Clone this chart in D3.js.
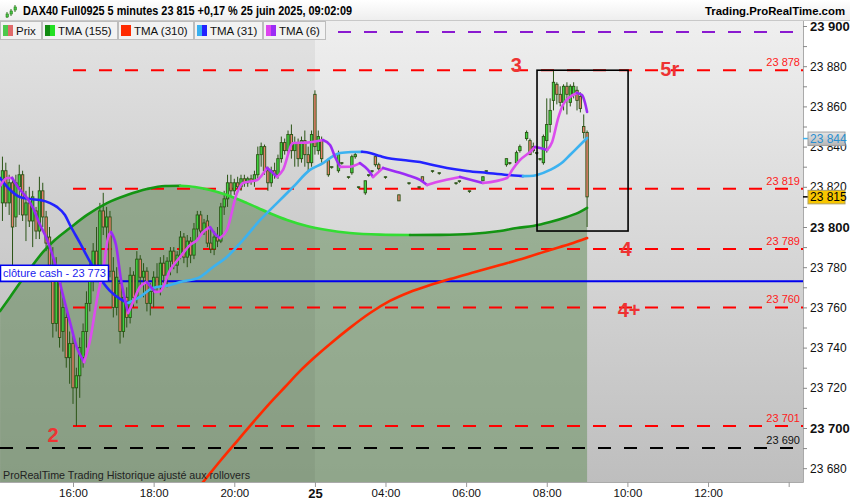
<!DOCTYPE html>
<html>
<head>
<meta charset="utf-8">
<script src="https://cdn.jsdelivr.net/npm/d3@7"></script>
<style>
  body { margin: 0; background: #fff; }
  svg { display: block; font-family: "Liberation Sans", Arial, sans-serif; }
</style>
</head>
<body>
<div id="chart"></div>
<script>
// 5 minute bars : [slot, open, high, low, close]  (slot 0 = 14:15, slot 93 = first bar of the 25th)
const candles = [
  [0,23812,23835,23803,23828],[1,23828,23832,23810,23812],[2,23812,23826,23806,23822],[3,23822,23825,23779,23800],
  [4,23805,23826,23800,23822],[5,23820,23831,23806,23826],[6,23826,23828,23803,23806],[7,23806,23818,23793,23812],
  [8,23812,23820,23800,23803],[9,23803,23818,23790,23815],[10,23808,23810,23794,23798],[11,23798,23825,23794,23818],
  [12,23818,23822,23800,23805],[13,23805,23808,23788,23792],[14,23795,23800,23775,23780],[15,23780,23790,23745,23752],
  [16,23752,23785,23748,23778],[17,23778,23780,23740,23745],[18,23748,23765,23738,23760],[19,23755,23760,23730,23735],
  [20,23735,23748,23722,23742],[21,23742,23746,23712,23720],[22,23720,23730,23701,23726],[23,23726,23745,23715,23740],
  [24,23735,23752,23730,23748],[25,23748,23768,23740,23762],[26,23762,23782,23758,23778],[27,23778,23792,23768,23788],
  [28,23788,23800,23775,23780],[29,23780,23812,23778,23808],[30,23808,23817,23796,23800],[31,23800,23810,23788,23805],
  [32,23805,23808,23775,23778],[33,23778,23785,23755,23760],[34,23760,23780,23756,23775],[35,23772,23774,23742,23748],
  [36,23748,23768,23745,23765],[37,23765,23770,23750,23755],[38,23755,23780,23752,23776],[39,23776,23778,23760,23765],
  [40,23765,23788,23762,23784],[41,23784,23786,23770,23775],[42,23775,23782,23765,23778],[43,23778,23780,23758,23762],
  [44,23762,23772,23756,23768],[45,23768,23778,23760,23775],[46,23775,23782,23768,23770],[47,23770,23785,23766,23782],
  [48,23782,23786,23772,23776],[49,23776,23785,23770,23783],[50,23783,23790,23776,23788],[51,23788,23790,23779,23781],
  [52,23781,23788,23777,23786],[53,23786,23798,23784,23795],[54,23795,23797,23782,23785],[55,23785,23796,23780,23793],
  [56,23793,23795,23782,23786],[57,23786,23802,23784,23799],[58,23799,23808,23794,23806],[59,23806,23808,23796,23798],
  [60,23798,23804,23796,23802],[61,23803,23806,23790,23792],[62,23792,23800,23787,23789],[63,23789,23798,23786,23795],
  [64,23795,23800,23790,23793],[65,23793,23812,23792,23810],[66,23810,23818,23806,23814],[67,23814,23826,23810,23822],
  [68,23822,23826,23815,23818],[69,23818,23824,23816,23822],[70,23822,23825,23818,23820],[71,23820,23826,23818,23824],
  [72,23824,23826,23820,23822],[73,23822,23825,23820,23824],[74,23824,23826,23821,23823],[75,23823,23828,23820,23826],
  [76,23826,23840,23824,23836],[77,23836,23842,23830,23840],[78,23840,23841,23826,23828],[79,23828,23830,23818,23822],
  [80,23822,23830,23820,23828],[81,23828,23832,23824,23826],[82,23826,23836,23824,23834],[83,23834,23845,23832,23842],
  [84,23842,23844,23836,23838],[85,23838,23848,23836,23846],[86,23846,23851,23834,23838],[87,23838,23845,23830,23842],
  [88,23842,23844,23830,23834],[89,23834,23845,23832,23843],[90,23843,23848,23830,23836],[91,23836,23840,23828,23832],
  [92,23832,23848,23830,23846],[93,23866,23868,23836,23840],[94,23838,23848,23836,23845],[95,23843,23845,23832,23834],
  [97,23833,23834,23825,23826],[98,23830,23830,23829,23830],[100,23828,23838,23827,23836],[101,23832,23832,23831,23832],
  [103,23825,23825,23824,23825],[104,23827,23836,23826,23835],[105,23835,23837,23834,23836],[106,23820,23820,23819,23820],
  [108,23817,23823,23816,23823],[109,23826,23826,23825,23826],[110,23828,23828,23827,23828],[111,23835,23835,23830,23831],
  [112,23831,23832,23828,23829],[114,23825,23825,23824,23825],[118,23816,23816,23813,23813],[121,23822,23822,23821,23822],
  [124,23820,23820,23819,23820],[125,23825,23825,23823,23823],[128,23828,23828,23827,23828],[130,23827,23827,23826,23827],
  [135,23822,23822,23821,23822],[136,23823,23823,23822,23823],[139,23818,23818,23817,23818],[143,23823,23825,23823,23825],
  [144,23828,23828,23827,23828],[150,23831,23834,23830,23834],[151,23832,23832,23831,23832],[153,23832,23838,23831,23837],
  [154,23838,23841,23837,23840],[156,23844,23848,23843,23847],[157,23843,23844,23836,23836],[158,23840,23842,23837,23838],
  [159,23837,23837,23836,23837],[160,23834,23834,23833,23834],[161,23832,23846,23831,23845],[162,23843,23864,23837,23851],
  [163,23851,23864,23847,23858],[164,23863,23878,23858,23872],[165,23871,23872,23861,23866],[166,23866,23870,23860,23862],
  [167,23862,23871,23858,23870],[168,23870,23872,23856,23866],[169,23862,23871,23860,23870],[170,23866,23872,23864,23870],
  [171,23868,23870,23858,23863],[172,23865,23867,23857,23859],[173,23850,23856,23844,23847],[174,23847,23848,23800,23815]
];

const tma6 = [[-0.7,23820.4],[1.4,23824.4],[2.9,23824.4],[4.6,23819.9],[7.3,23814.4],[9.1,23809.5],[11.2,23801],[12.7,23796],
  [14.2,23789.6],[16.2,23778.6],[18,23766.2],[20.1,23752.7],[22.2,23739.8],[24.3,23732.8],[26.1,23743.8],[28.1,23763.7],
  [30.2,23781.1],[31.4,23794.5],[32.3,23797.5],[33.8,23791],[35.3,23773.6],[37.4,23757.2],[38.9,23762.7],[40.9,23770.1],
  [43,23772.6],[45.4,23767.7],[46.9,23767.9],[49.9,23778.6],[52.9,23785.1],[55.8,23791],[57.9,23793.5],[59.7,23797.5],
  [61.8,23800],[63.3,23796.5],[64.8,23794.5],[66.8,23798.5],[69.8,23816.9],[71.6,23821.9],[75.8,23823.4],[78.7,23829.4],
  [80.2,23827.4],[81.7,23824.9],[83.5,23828.4],[86.5,23841.8],[90.6,23842],[95.4,23843.3],[97.5,23840.8],[99,23834.8],
  [100.5,23829.9],[103.4,23830],[106.4,23831.8],[108.8,23828.4],[110.3,23824.9],[113.3,23829.4],[117.4,23827.4],
  [120.4,23825.9],[124.3,23823.4],[126.4,23820.9],[129.3,23822.4],[136.2,23824.9],[143,23821.9],[150.2,23824.4],
  [151.7,23828.4],[154,23833.3],[157,23837.3],[158.5,23839.8],[160,23839.3],[162.1,23838.3],[163.6,23842.3],
  [165.4,23854.2],[166.8,23860.7],[168.9,23864.7],[171,23866.7],[172.5,23865.7],[173.4,23861.7],[174,23857.2]];

const tma31 = [[-0.7,23824.4],[2.3,23818.4],[5.2,23814.9],[8.2,23813.9],[11.2,23813.4],[14.2,23811.9],[16.2,23810],
  [18.6,23806],[20.1,23801],[23.1,23792],[26.1,23782.6],[29,23774.6],[32,23768.2],[35,23764.2],[37.4,23762.2],
  [40.9,23765.2],[44.8,23769.7],[49.9,23771.1],[52.9,23772.6],[58.8,23775.1],[62.7,23780.1],[66.8,23785.1],
  [71.6,23793.5],[76.7,23803.5],[81.7,23811.9],[86.5,23819.9],[91.5,23828.4],[95.4,23831.8],[97.5,23834.3],
  [100.5,23836.8],[104.3,23837.3],[107,23837.4],[109.4,23836.8],[112.4,23835.3],[114.5,23834.3],[119.2,23833.3],
  [124.3,23832.3],[128.1,23830.8],[132.3,23829.4],[138.3,23827.9],[144.2,23826.9],[150.2,23825.9],[154.9,23825.3],
  [157,23825.4],[159.1,23825.9],[163,23828.4],[166.8,23832.3],[168.9,23835.8],[171.9,23840.8],[174,23844.3]];

const tma155 = [[-0.7,23758.2],[2.3,23765.2],[7.3,23777.1],[12.1,23787.6],[15.6,23793.5],[20.1,23799.5],[25.2,23806],
  [31.1,23811.9],[37.1,23815.9],[43,23818.9],[48.4,23820.4],[52.9,23820.5],[57.3,23819.9],[61.8,23818.4],[66.8,23815.9],
  [72.8,23811.9],[78.7,23807.5],[84.7,23803.5],[90.6,23800.5],[96.6,23798.5],[103.4,23797],[112.4,23796.2],
  [121.3,23796],[130.2,23796.1],[139.2,23796.5],[148.1,23798],[153.1,23799.5],[157.9,23800.5],[163,23802.5],
  [168,23805],[171.9,23807.5],[174,23809.5]];

const tma310 = [[57.3,23668.2],[59.7,23673.1],[64.8,23683.6],[70.1,23694],[75.2,23704],[79.6,23712.4],[84.1,23720.4],
  [88.6,23728.4],[93,23735.3],[97.5,23741.8],[103.4,23749.8],[109.4,23757.2],[115.3,23763.2],[121.3,23767.7],
  [127.3,23771.1],[133.2,23774.1],[140.6,23777.6],[148.1,23781.1],[155.5,23784.6],[163,23788.6],[168.9,23791.5],
  [174,23794.5]];

// horizontal levels
const redLevels = [23878, 23819, 23789, 23760, 23701];
const levelStartSlot = 21;
const purpleLevel = 23897;
const blackLevel = 23690;
const cashClose = 23773;
const lastPrice = 23815;
const lastTma31 = 23844;

// x axis
const xTickSlots = [21, 45, 69, 93, 114, 138, 162, 186, 210, 234];
const xTickLabels = ["16:00", "18:00", "20:00", "25", "04:00", "06:00", "08:00", "10:00", "12:00", ""];
const dayBreakSlot = 93;

// annotations : [text, slot, price]
const notes = [["3", 152.9, 23877], ["5r", 198.6, 23875], ["4", 185.6, 23785.5], ["4+", 186.5, 23755], ["2", 15.1, 23693]];
const box = [159.1, 186.2, 23878, 23798];

const legendItems = ["Prix", "TMA (155)", "TMA (310)", "TMA (31)", "TMA (6)"];
const legendColors = [["#4cc94c", "#e06a6a"], ["#0f8a0f", "#22e022"], ["#ff2a00", "#ff2a00"], ["#38b0f0", "#2222ff"], ["#dd44ee", "#9b2cf5"]];

// ---------------------------------------------------------------
const W = 850, H = 500;
const P = { left: 0, right: 803, top: 20, bottom: 482 };

const svg = d3.select("#chart").append("svg").attr("width", W).attr("height", H);

const x = d3.scaleLinear().domain([-0.726, 238.26]).range([P.left, P.right]);
const y = d3.scaleLinear().domain([23700, 23800]).range([428, 227]);
const fmt = v => d3.format(",")(v).replace(",", " ");

const defs = svg.append("defs");
const bgGrad = defs.append("linearGradient").attr("id", "bg").attr("x1", 0).attr("y1", 0).attr("x2", 0).attr("y2", 1);
bgGrad.append("stop").attr("offset", "0%").attr("stop-color", "#efefef");
bgGrad.append("stop").attr("offset", "100%").attr("stop-color", "#bebebe");
const headGrad = defs.append("linearGradient").attr("id", "head").attr("x1", 0).attr("y1", 0).attr("x2", 0).attr("y2", 1);
headGrad.append("stop").attr("offset", "0%").attr("stop-color", "#ffffff");
headGrad.append("stop").attr("offset", "100%").attr("stop-color", "#eeeeee");
const tagGrad = defs.append("linearGradient").attr("id", "tag").attr("x1", 0).attr("y1", 0).attr("x2", 0).attr("y2", 1);
tagGrad.append("stop").attr("offset", "0%").attr("stop-color", "#e6e6e6");
tagGrad.append("stop").attr("offset", "100%").attr("stop-color", "#b4b4b4");
defs.append("clipPath").attr("id", "clip").append("rect")
  .attr("x", P.left).attr("y", P.top).attr("width", P.right - P.left).attr("height", P.bottom - P.top);

// plot background
svg.append("rect").attr("x", P.left).attr("y", P.top).attr("width", P.right - P.left)
  .attr("height", P.bottom - P.top).attr("fill", "url(#bg)");

const g = svg.append("g").attr("clip-path", "url(#clip)");

// area under TMA(155)
g.append("path").datum(tma155)
  .attr("d", d3.area().x(d => x(d[0])).y0(P.bottom).y1(d => y(d[1])).curve(d3.curveMonotoneX))
  .attr("fill", "rgb(120,154,112)").attr("fill-opacity", 0.66);

// previous day slightly darker
g.append("rect").attr("x", P.left).attr("y", P.top).attr("width", x(dayBreakSlot) - P.left)
  .attr("height", P.bottom - P.top).attr("fill", "#000").attr("fill-opacity", 0.05);

// dashed levels
g.selectAll("line.red").data(redLevels).join("line").attr("class", "red")
  .attr("x1", x(levelStartSlot)).attr("x2", P.right).attr("y1", d => y(d)).attr("y2", d => y(d))
  .attr("stroke", "#ff0000").attr("stroke-width", 2).attr("stroke-dasharray", "13,13");
g.append("line").attr("x1", 0).attr("x2", P.right).attr("y1", y(purpleLevel)).attr("y2", y(purpleLevel))
  .attr("stroke", "#8a1ad0").attr("stroke-width", 2).attr("stroke-dasharray", "13,13");
g.append("line").attr("x1", 0).attr("x2", P.right).attr("y1", y(blackLevel)).attr("y2", y(blackLevel))
  .attr("stroke", "#000").attr("stroke-width", 2).attr("stroke-dasharray", "13,13");

// cash close
g.append("line").attr("x1", 0).attr("x2", P.right).attr("y1", y(cashClose)).attr("y2", y(cashClose))
  .attr("stroke", "#0000ee").attr("stroke-width", 2);

// candles
const wickCol = "#2b5416";
g.selectAll("line.wick").data(candles).join("line").attr("class", "wick")
  .attr("x1", d => x(d[0])).attr("x2", d => x(d[0]))
  .attr("y1", d => y(d[2])).attr("y2", d => y(d[3]))
  .attr("stroke", wickCol).attr("stroke-width", 1);
const bw = 2.4;
g.selectAll("rect.body").data(candles).join("rect").attr("class", "body")
  .attr("x", d => x(d[0]) - bw / 2)
  .attr("y", d => y(Math.max(d[1], d[4])))
  .attr("width", bw)
  .attr("height", d => Math.max(0.6, Math.abs(y(d[1]) - y(d[4]))))
  .attr("fill", d => d[4] > d[1] ? "#3fd63f" : d[4] < d[1] ? "#e8806c" : wickCol)
  .attr("stroke", wickCol).attr("stroke-width", 0.9);

// moving averages, coloured by direction
function runs(pts) {
  const out = [];
  let cur = [pts[0]], dir = 0;
  for (let k = 1; k < pts.length; k++) {
    let d = Math.sign(pts[k][1] - pts[k - 1][1]) || dir || 1;
    if (dir === 0) dir = d;
    if (d !== dir) { out.push({ dir, pts: cur }); cur = [pts[k - 1]]; dir = d; }
    cur.push(pts[k]);
  }
  out.push({ dir, pts: cur });
  return out;
}
const lineGen = d3.line().x(d => x(d[0])).y(d => y(d[1])).curve(d3.curveMonotoneX);
function drawTma(pts, upCol, downCol, width) {
  g.append("g").selectAll("path").data(runs(pts)).join("path")
    .attr("d", r => lineGen(r.pts)).attr("fill", "none")
    .attr("stroke", r => r.dir > 0 ? upCol : downCol)
    .attr("stroke-width", width).attr("stroke-linecap", "round");
}
drawTma(tma310, "#ff2a00", "#ff2a00", 2.6);
drawTma(tma155, "#139413", "#33dd33", 2.6);
drawTma(tma31, "#3cb2f0", "#2323ff", 2.6);
drawTma(tma6, "#dc4ded", "#9b2cf5", 2.6);

// rectangle
g.append("rect").attr("x", x(box[0])).attr("y", y(box[2]))
  .attr("width", x(box[1]) - x(box[0])).attr("height", y(box[3]) - y(box[2]))
  .attr("fill", "none").attr("stroke", "#000").attr("stroke-width", 1.6);

// level labels
g.selectAll("text.lvl").data(redLevels).join("text").attr("class", "lvl")
  .attr("x", 800).attr("y", d => y(d) - 4).attr("text-anchor", "end")
  .attr("font-size", 11).attr("fill", "#ff1a1a").text(d => fmt(d));
g.append("text").attr("x", 800).attr("y", y(blackLevel) - 4).attr("text-anchor", "end")
  .attr("font-size", 11).attr("fill", "#111").text(fmt(blackLevel));

// annotations
g.selectAll("text.note").data(notes).join("text").attr("class", "note")
  .attr("x", d => x(d[1])).attr("y", d => y(d[2])).attr("text-anchor", "middle")
  .attr("font-size", 20).attr("font-weight", "bold").attr("fill", "#ee3333").text(d => d[0]);

// cash close tag
const cy = y(cashClose);
g.append("rect").attr("x", 0.5).attr("y", cy - 16).attr("width", 108).attr("height", 16)
  .attr("fill", "#fff").attr("stroke", "#0000ee").attr("stroke-width", 1.5);
g.append("text").attr("x", 3).attr("y", cy - 4).attr("font-size", 11.5).attr("fill", "#1a1aee")
  .attr("textLength", 103).attr("lengthAdjust", "spacingAndGlyphs")
  .text("clôture cash -  " + fmt(cashClose));

// footer text
g.append("text").attr("x", 3).attr("y", 479).attr("font-size", 11).attr("fill", "#222")
  .attr("textLength", 247).attr("lengthAdjust", "spacingAndGlyphs")
  .text("ProRealTime Trading  Historique ajusté aux rollovers");

// ---- axes panels
svg.append("rect").attr("x", 0).attr("y", P.bottom).attr("width", W).attr("height", H - P.bottom).attr("fill", "#fff");
svg.append("rect").attr("x", P.right).attr("y", P.top).attr("width", W - P.right).attr("height", H - P.top).attr("fill", "#fff");
svg.append("line").attr("x1", 0).attr("x2", P.right + 0.5).attr("y1", P.bottom + 0.5).attr("y2", P.bottom + 0.5).attr("stroke", "#aaa");
svg.append("line").attr("x1", P.right + 0.5).attr("x2", P.right + 0.5).attr("y1", P.top).attr("y2", P.bottom + 0.5).attr("stroke", "#aaa");

// x axis
const xAxis = svg.append("g").attr("transform", `translate(0,${P.bottom})`)
  .call(d3.axisBottom(x).tickValues(xTickSlots).tickSize(5).tickFormat((d, i) => xTickLabels[i]));
xAxis.select(".domain").remove();
xAxis.selectAll(".tick line").attr("stroke", "#999");
xAxis.selectAll(".tick text").attr("font-family", "Liberation Sans, Arial, sans-serif")
  .attr("fill", "#111").attr("dy", "0.6em")
  .attr("font-weight", (d, i) => xTickLabels[i] === "25" ? "bold" : "normal")
  .attr("font-size", (d, i) => xTickLabels[i] === "25" ? 13 : 11.5);

// y axis
const yAxis = svg.append("g").attr("transform", `translate(${P.right},0)`)
  .call(d3.axisRight(y).tickValues(d3.range(23680, 23901, 10)).tickSize(4)
    .tickFormat(d => d % 20 === 0 ? fmt(d) : ""));
yAxis.select(".domain").remove();
yAxis.selectAll(".tick line").attr("stroke", "#888");
yAxis.selectAll(".tick text").attr("font-family", "Liberation Sans, Arial, sans-serif")
  .attr("x", 7).attr("fill", "#111")
  .attr("font-weight", d => d % 100 === 0 ? "bold" : "normal")
  .attr("font-size", d => d % 100 === 0 ? 13 : 12);

// value tags
function tag(v, fill, stroke, textCol, tickCol) {
  const t = svg.append("g").attr("transform", `translate(0,${y(v)})`);
  t.append("line").attr("x1", P.right).attr("x2", 808).attr("stroke", tickCol).attr("stroke-width", 1.5);
  t.append("rect").attr("x", 808).attr("y", -6.5).attr("width", 37).attr("height", 13.5)
    .attr("fill", fill).attr("stroke", stroke);
  t.append("text").attr("x", 810).attr("y", 4.5).attr("font-size", 12).attr("fill", textCol).text(fmt(v));
}
tag(lastTma31, "url(#tag)", "#a0a0a0", "#2a8fd0", "#3cb2f0");
tag(lastPrice, "#f7c600", "#b0a060", "#000", "#000");

// ---- header
svg.append("rect").attr("x", 0).attr("y", 0).attr("width", W).attr("height", 20).attr("fill", "url(#head)");
svg.append("line").attr("x1", 0).attr("x2", W).attr("y1", 20.5).attr("y2", 20.5).attr("stroke", "#c8c8c8");
const icon = svg.append("g").attr("transform", "translate(5,3)");
[[1, 9, 15, 11, 14], [5, 6, 13, 8, 11], [9, 2, 9, 4, 7]].forEach(c => {
  icon.append("line").attr("x1", c[0] + 1).attr("x2", c[0] + 1).attr("y1", c[1]).attr("y2", c[2]).attr("stroke", "#2b7a1a");
  icon.append("rect").attr("x", c[0]).attr("y", c[3]).attr("width", 2.4).attr("height", c[4] - c[3]).attr("fill", "#45c845").attr("stroke", "#2b7a1a").attr("stroke-width", 0.6);
});
svg.append("text").attr("x", 23).attr("y", 15).attr("font-size", 12).attr("font-weight", "bold").attr("fill", "#000")
  .attr("textLength", 329).attr("lengthAdjust", "spacingAndGlyphs")
  .text("DAX40 Full0925 5 minutes 23 815 +0,17 % 25 juin 2025, 09:02:09");
svg.append("text").attr("x", 705).attr("y", 15).attr("font-size", 11.5)
  .attr("font-weight", "bold").attr("fill", "#000")
  .attr("textLength", 140).attr("lengthAdjust", "spacingAndGlyphs").text("Trading.ProRealTime.com");

// legend
let lx = 0;
legendItems.forEach((name, i) => {
  const lg = svg.append("g").attr("transform", `translate(${lx},21)`);
  const r = lg.append("rect").attr("x", 0.5).attr("y", 0.5).attr("height", 18).attr("fill", "#f2f2f2").attr("stroke", "#bdbdbd");
  lg.append("rect").attr("x", 3).attr("y", 4).attr("width", 5).attr("height", 11).attr("fill", legendColors[i][0]);
  lg.append("rect").attr("x", 8).attr("y", 4).attr("width", 5).attr("height", 11).attr("fill", legendColors[i][1]);
  const t = lg.append("text").attr("x", 16).attr("y", 14).attr("font-size", 11.5).attr("fill", "#111").text(name);
  const w = Math.round(16 + t.node().getComputedTextLength() + 5);
  r.attr("width", w);
  lx += w + 1;
});
</script>
</body>
</html>
